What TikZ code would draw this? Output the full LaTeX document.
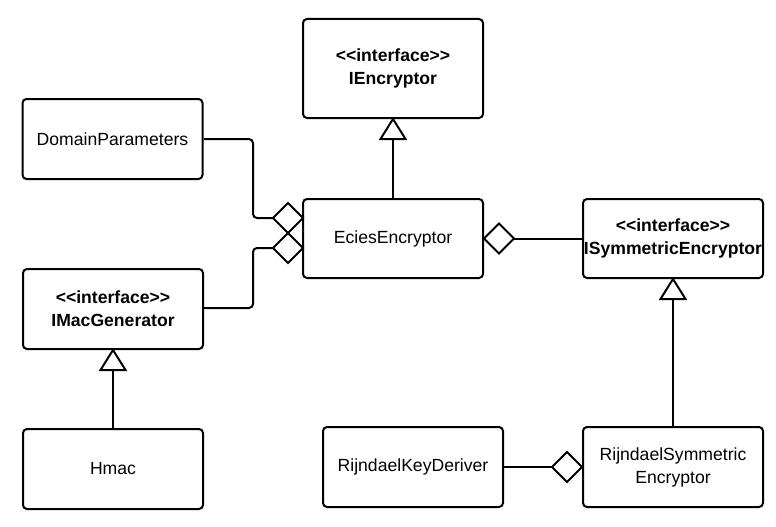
\documentclass[tikz,border=0pt]{standalone}
\usepackage{fontspec}
\setmainfont{Liberation Sans}[Ligatures=TeXOff]
\usetikzlibrary{calc}
\tikzset{
  box/.style={draw, line width=2pt, rounded corners=4pt, minimum width=180pt,
    minimum height=80pt, inner sep=0pt, align=center,
    font=\fontsize{17.6}{23}\selectfont},
  ibox/.style={box, font=\fontsize{17.6}{23}\selectfont\bfseries},
  conn/.style={line width=2pt},
  rconn/.style={line width=2pt, rounded corners=4pt},
  head/.style={line width=2pt, fill=white, line join=miter},
}
\begin{document}
\begin{tikzpicture}[x=1pt,y=-1pt]
\useasboundingbox (0,0) rectangle (776,527);
% boxes
\node[ibox, minimum height=99pt] (ienc) at (393,68.5) {<<interface>>\\IEncryptor};
\node[box] (dp) at (112.5,139) {DomainParameters};
\node[box, minimum height=79pt] (ecies) at (393,238.5) {EciesEncryptor};
\node[ibox, minimum height=79pt] (isym) at (673,238.5) {<<interface>>\\ISymmetricEncryptor};
\node[ibox] (imac) at (113,309) {<<interface>>\\IMacGenerator};
\node[box] (hmac) at (113,469) {Hmac};
\node[box] (rkd) at (413,467) {RijndaelKeyDeriver};
\node[box] (rse) at (673,467) {RijndaelSymmetric\\Encryptor};
% coordinates
\coordinate (d1) at (303,218);
\coordinate (d2) at (303,248);
\coordinate (t1) at ($(ienc.south)+(0,20)$);
\coordinate (t2) at ($(isym.south)+(0,20)$);
\coordinate (t3) at ($(imac.south)+(0,20)$);
\coordinate (d3) at ($(ecies.east)+(30,0)$);
\coordinate (d4) at ($(rse.west)+(-30,0)$);
% connectors
\draw[conn] (ecies.north) -- (t1);
\draw[conn] (rse.north) -- (t2);
\draw[conn] (hmac.north) -- (t3);
\draw[rconn] (dp.east) -- (253,139) -- (253,218) -- ($(d1)+(-30,0)$);
\draw[rconn] (imac.east |- 0,308) -- (253,308) -- (253,248) -- ($(d2)+(-30,0)$);
\draw[conn] (d3) -- (d3 -| isym.west);
\draw[conn] (rkd.east) -- (d4);
% triangles
\draw[head] (ienc.south) -- ++(12.5,20) -- ++(-25,0) -- cycle;
\draw[head] (isym.south) -- ++(12.5,20) -- ++(-25,0) -- cycle;
\draw[head] (imac.south) -- ++(12.5,20) -- ++(-25,0) -- cycle;
% diamonds
\draw[head] (d1) -- ++(-15,-15) -- ++(-15,15) -- ++(15,15) -- cycle;
\draw[head] (d2) -- ++(-15,-15) -- ++(-15,15) -- ++(15,15) -- cycle;
\draw[head] (ecies.east) -- ++(15,-15) -- ++(15,15) -- ++(-15,15) -- cycle;
\draw[head] (rse.west) -- ++(-15,-15) -- ++(-15,15) -- ++(15,15) -- cycle;
\end{tikzpicture}
\end{document}
